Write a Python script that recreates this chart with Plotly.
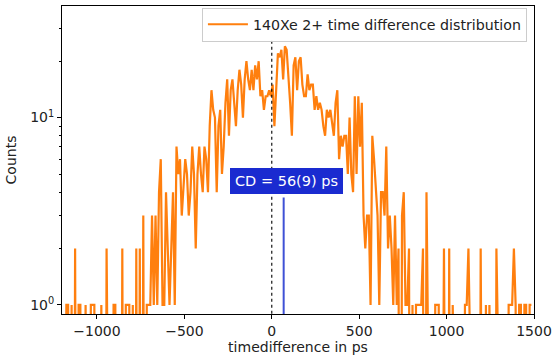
import numpy as np
import plotly.graph_objects as go

# bin centres (ps) and counts
bin_start = -1195
bin_width = 10
counts = [
    0, 0, 1, 1, 0, 1, 0, 2, 0, 1,          # -1200..-1100
    1, 0, 0, 1, 0, 0, 1, 1, 1, 0,          # -1100..-1000
    0, 0, 1, 0, 0, 2, 0, 0, 0, 1,          # -1000..-900
    1, 0, 0, 0, 2, 0, 1, 1, 1, 0,          # -900..-800
    1, 0, 2, 0, 2, 0, 3, 0, 1, 1,          # -800..-700
    1, 3, 1, 3, 1, 4, 6, 1, 1, 4,          # -700..-600
    2, 1, 2, 4, 1, 7, 5, 6, 3, 4,          # -600..-500
    6, 5, 3, 4, 7, 5, 2, 5, 7, 5,          # -500..-400
    4, 7, 6, 4, 9, 14, 11, 10, 4, 9,       # -400..-300
    11, 5, 7, 12, 16, 8, 14, 16, 12, 9,    # -300..-200
    14, 18, 15, 10, 16, 20, 16, 14, 18, 14,  # -200..-100
    19, 16, 20, 13, 14, 11, 13, 13, 14, 13,  # -100..0
    15, 9, 14, 22, 21, 23, 16, 24, 23, 17,   # 0..100
    12, 8, 19, 21, 14, 20, 21, 15, 13, 13,   # 100..200
    17, 14, 15, 15, 11, 13, 11, 12, 11, 9,   # 200..300
    8, 11, 10, 11, 9, 8, 12, 14, 6, 8,       # 300..400
    7, 8, 8, 5, 10, 5, 4, 13, 5, 13,         # 400..500
    7, 12, 3, 2, 3, 3, 1, 8, 6, 4,           # 500..600
    3, 1, 4, 4, 3, 7, 2, 3, 2, 1,            # 600..700
    3, 1, 2, 0, 3, 4, 1, 1, 2, 0,            # 700..800
    1, 0, 1, 1, 1, 1, 2, 0, 4, 0,            # 800..900
    0, 0, 0, 1, 1, 1, 0, 0, 2, 0,            # 900..1000
    0, 2, 0, 1, 0, 0, 0, 0, 0, 0,            # 1000..1100
    1, 1, 2, 0, 0, 0, 0, 0, 0, 2,            # 1100..1200
    0, 0, 1, 0, 1, 0, 0, 0, 2, 0,            # 1200..1300
    0, 0, 0, 0, 0, 1, 1, 1, 2, 1,            # 1300..1400
    0, 1, 1, 0, 1, 1, 0, 1, 1,               # 1400..1490
]
centres = bin_start + bin_width * np.arange(len(counts))
counts = np.array(counts, dtype=float)
# like matplotlib's log clipping: empty bins drop below the axis
plot_counts = np.where(counts > 0, counts, 1e-3)

legend_label = "140Xe 2+ time difference distribution"
cd_label = "CD = 56(9) ps"
cd_line_x = 68
cd_line_top = 3.75
zero_line_top = 26
x_ticks = [-1000, -500, 0, 500, 1000, 1500]
y_range = [0.895, 39.4]
x_range = [-1200, 1500]

fig = go.Figure()
fig.add_trace(go.Scatter(
    x=centres, y=plot_counts, mode="lines", name=legend_label,
    line=dict(color="#ff7f0e", width=2.2), showlegend=True,
))
fig.add_trace(go.Scatter(
    x=[0, 0], y=[0.01, zero_line_top], mode="lines", showlegend=False,
    line=dict(color="black", width=1.1, dash="dot"),
))
fig.add_trace(go.Scatter(
    x=[cd_line_x, cd_line_x], y=[0.01, cd_line_top], mode="lines", showlegend=False,
    line=dict(color="#3f51d6", width=2),
))

fig.add_annotation(
    x=85, y=np.log10(4.57), xref="x", yref="y", text=cd_label, showarrow=False,
    font=dict(family="DejaVu Sans", size=14.5, color="white"),
    bgcolor="#1a2bd0", borderpad=5, bordercolor="#1a2bd0", borderwidth=0,
)

font = dict(family="DejaVu Sans", size=14, color="#222")
fig.update_layout(
    width=557, height=359,
    margin=dict(l=62, r=20, t=5, b=45),
    paper_bgcolor="white", plot_bgcolor="white",
    font=font,
    legend=dict(x=0.985, y=0.995, xanchor="right", yanchor="top",
                bordercolor="#cccccc", borderwidth=1, bgcolor="rgba(255,255,255,0.8)",
                font=dict(family="DejaVu Sans", size=14.2, color="#222"),
                itemwidth=40, tracegroupgap=0),
)
fig.update_xaxes(
    range=x_range, tickvals=x_ticks, showgrid=False, zeroline=False,
    showline=True, linecolor="black", linewidth=1, mirror=True,
    ticks="outside", ticklen=4, tickcolor="black",
    title=dict(text="timedifference in ps", standoff=4, font=font),
)
fig.update_yaxes(
    type="log", range=[np.log10(y_range[0]), np.log10(y_range[1])],
    tickvals=[1, 10], ticktext=["10<sup>0</sup>", "10<sup>1</sup>"],
    showgrid=False, zeroline=False,
    showline=True, linecolor="black", linewidth=1, mirror=True,
    ticks="outside", ticklen=4, tickcolor="black",
    minor=dict(tickvals=[2, 3, 4, 5, 6, 7, 8, 9, 20, 30], ticks="outside",
               ticklen=2, tickcolor="black", showgrid=False),
    title=dict(text="Counts", standoff=10, font=font),
)
fig.write_html("out.html")
